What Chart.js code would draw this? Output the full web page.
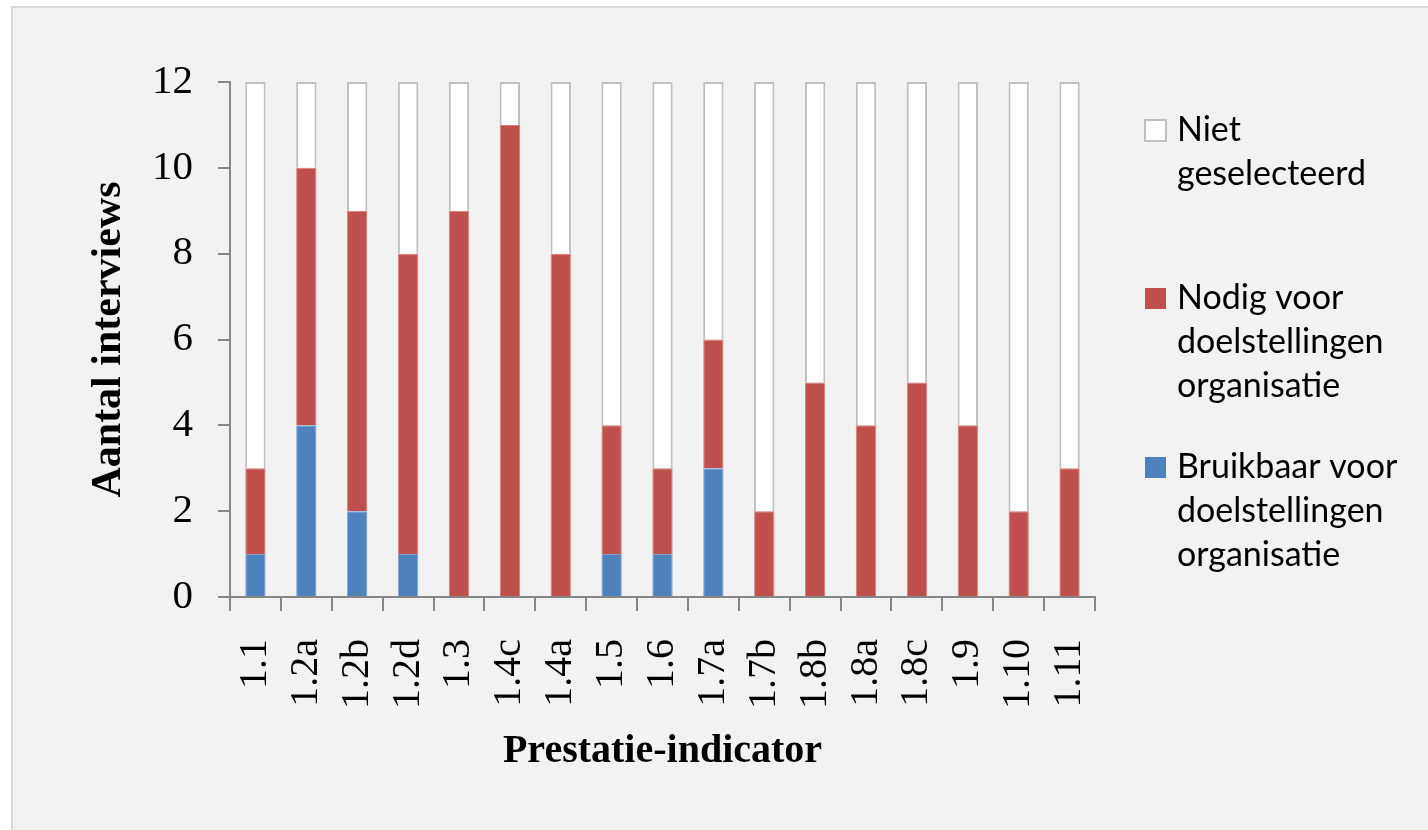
<!DOCTYPE html>
<html>
<head>
<meta charset="utf-8">
<script src="https://cdn.jsdelivr.net/npm/chart.js@4"></script>
<style>
  html, body { margin: 0; padding: 0; background: #ffffff; }
  #frame {
    position: absolute; left: 11px; top: 6px; width: 1440px; height: 840px;
    background: #f2f2f2; border: 2px solid #d9d9d9; box-sizing: border-box;
  }
  #wrap { position: absolute; left: 0; top: 0; width: 1428px; height: 830px; }
</style>
</head>
<body>
<div id="frame"></div>
<div id="wrap"><canvas id="chart" width="1428" height="830"></canvas></div>
<script>
// categorieen en waarden (aantal interviews)
const categories = ['1.1','1.2a','1.2b','1.2d','1.3','1.4c','1.4a','1.5','1.6','1.7a','1.7b','1.8b','1.8a','1.8c','1.9','1.10','1.11'];
const bruikbaar  = [1, 4, 2, 1, 0, 0, 0, 1, 1, 3, 0, 0, 0, 0, 0, 0, 0];
const nodig      = [2, 6, 7, 7, 9, 11, 8, 3, 2, 3, 2, 5, 4, 5, 4, 2, 3];
const niet       = [9, 2, 3, 4, 3, 1, 4, 8, 9, 6, 10, 7, 8, 7, 8, 10, 9];
const yTicks     = [0, 2, 4, 6, 8, 10, 12];

const labelBruikbaar = ['Bruikbaar voor', 'doelstellingen', 'organisatie'];
const labelNodig     = ['Nodig voor', 'doelstellingen', 'organisatie'];
const labelNiet      = ['Niet', 'geselecteerd'];

const serif = "'Liberation Serif', 'Times New Roman', serif";

// legenda rechts, met tekst over meerdere regels
const sideLegend = {
  id: 'sideLegend',
  afterDraw(chart) {
    const ctx = chart.ctx;
    const groups = [2, 1, 0];
    const startY = [130, 298, 467];
    ctx.save();
    ctx.font = "34px Lato, 'Open Sans', sans-serif";
    ctx.textBaseline = 'middle';
    ctx.textAlign = 'left';
    groups.forEach((dsIdx, i) => {
      const ds = chart.data.datasets[dsIdx];
      const y = startY[i];
      ctx.fillStyle = ds.backgroundColor;
      ctx.fillRect(1145, y - 10, 21, 21);
      if (dsIdx === 2) {
        ctx.strokeStyle = '#bfbfbf';
        ctx.lineWidth = 2;
        ctx.strokeRect(1145, y - 10, 21, 21);
      }
      ctx.fillStyle = '#000';
      ds.lines.forEach((line, k) => ctx.fillText(line, 1177, y + k * 44));
    });
    ctx.restore();
  }
};

new Chart(document.getElementById('chart'), {
  type: 'bar',
  data: {
    labels: categories,
    datasets: [
      { label: labelBruikbaar.join(' '), lines: labelBruikbaar, data: bruikbaar,
        backgroundColor: '#4f81bd', borderColor: '#7fa3d0', borderWidth: 1 },
      { label: labelNodig.join(' '), lines: labelNodig, data: nodig,
        backgroundColor: '#c0504d', borderColor: '#d4807d', borderWidth: 1 },
      { label: labelNiet.join(' '), lines: labelNiet, data: niet,
        backgroundColor: '#ffffff', borderColor: '#bfbfbf', borderWidth: 2 }
    ]
  },
  options: {
    responsive: false,
    animation: false,
    layout: { padding: { left: 0, right: 333, top: 82, bottom: 0 } },
    datasets: { bar: { barPercentage: 0.4, categoryPercentage: 1 } },
    plugins: { legend: { display: false }, tooltip: { enabled: false } },
    scales: {
      x: {
        stacked: true,
        afterFit: s => { s.height = 233; },
        grid: { drawOnChartArea: false, drawTicks: true, tickLength: 14, color: '#868686', lineWidth: 2, offset: true },
        border: { color: '#868686', width: 2 },
        ticks: { color: '#000', font: { family: serif, size: 40 }, minRotation: 90, maxRotation: 90, padding: 28, autoSkip: false },
        title: { display: true, text: 'Prestatie-indicator', color: '#000',
                 font: { family: serif, size: 40, weight: 'bold' }, padding: { top: 0, bottom: 54 } }
      },
      y: {
        stacked: true,
        min: 0, max: 12,
        afterFit: s => { s.width = 230; },
        afterBuildTicks: s => { s.ticks = yTicks.map(v => ({ value: v })); },
        grid: { drawOnChartArea: false, drawTicks: true, tickLength: 12, color: '#868686', lineWidth: 2 },
        border: { color: '#868686', width: 2 },
        ticks: { color: '#000', font: { family: serif, size: 41 }, padding: 25 },
        title: { display: true, text: 'Aantal interviews', color: '#000',
                 font: { family: serif, size: 42, weight: 'bold' }, padding: { top: 84, bottom: 0 } }
      }
    }
  },
  plugins: [sideLegend]
});
</script>
</body>
</html>
